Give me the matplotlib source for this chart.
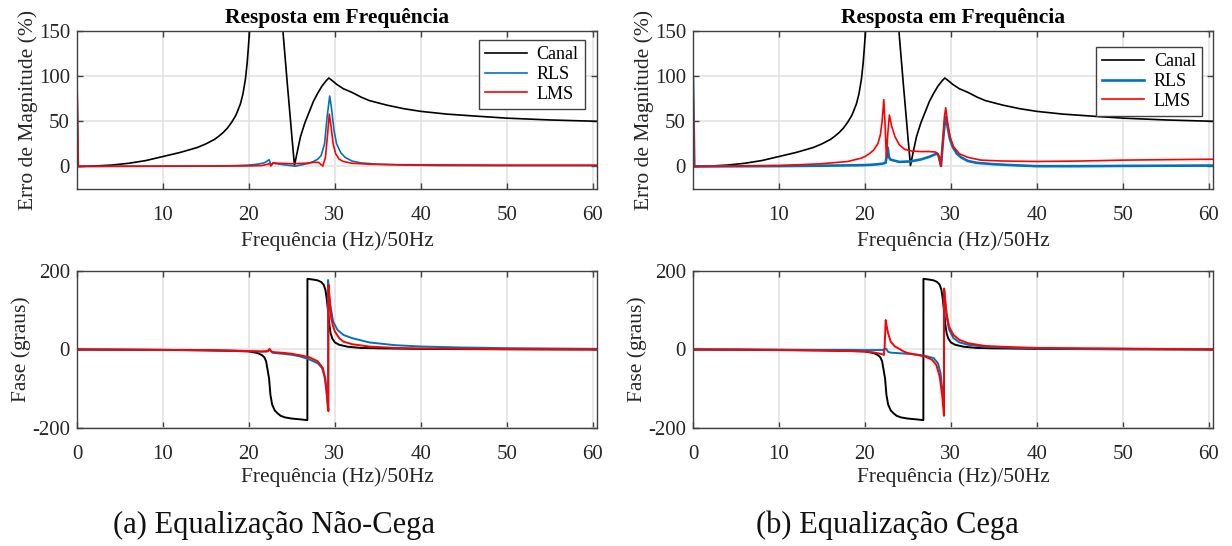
import matplotlib
matplotlib.use("Agg")
import matplotlib.pyplot as plt

# ---- data ----
# channel (same in both panels)
canal_mag_f = [0, 2, 4, 6, 8, 10, 12, 14, 15, 16, 16.5, 17, 17.5, 18, 18.5, 19, 19.3, 19.6, 19.8, 20,
               20.3, 21, 21.7, 22.3, 23, 23.5, 24, 24.5, 25, 25.3, 25.6, 26, 26.5, 27, 27.5, 28, 28.5,
               29, 29.3, 29.7, 30.2, 31, 32, 33, 34, 36, 38, 40, 43, 46, 50, 55, 60.5]
canal_mag = [0, 0.5, 1.5, 3.5, 6.5, 11, 15.5, 21, 25, 30, 33.5, 37.5, 42.5, 49, 57, 69, 80, 97, 115, 140,
             190, 300, 600, 800, 400, 220, 145, 88, 33, 1, 15, 33, 48, 60, 72, 81, 89,
             95, 98, 95, 91, 86, 82, 77, 73, 68, 64, 61, 58, 56, 53.5, 51.5, 50]

canal_ph_f = [0, 5, 10, 15, 18, 20, 21, 21.5, 21.8, 22.0, 22.2, 22.35, 22.5, 22.7, 23.0, 23.3, 23.7,
              24.2, 25, 26, 26.8, 26.81, 27.5, 28, 28.4, 28.7, 28.9, 29.05, 29.2, 29.35, 29.5, 29.7,
              30, 30.5, 31.5, 33, 35, 40, 50, 60.5]
canal_ph = [0, -0.5, -1, -2, -3.5, -5, -9, -14, -20, -30, -55, -75, -115, -140, -155, -162, -169,
            -173, -176, -178, -180, 180, 178, 176, 172, 165, 152, 130, 100, 65, 42, 28,
            18, 12, 7, 4, 3, 1.5, 0.5, 0]

# (a) non-blind
rls_a_mag_f = [0, 0.15, 5, 10, 15, 18, 20, 21, 21.8, 22.2, 22.35, 22.6, 22.8, 23.2, 24, 25, 25.4, 26,
               27, 27.5, 28, 28.4, 28.8, 29.1, 29.4, 29.6, 29.9, 30.2, 30.7, 31.2, 32, 33, 35, 38,
               42, 50, 60.5]
rls_a_mag = [97, 0, 0.2, 0.3, 0.5, 0.8, 1.5, 2.5, 4, 6.5, 7.5, 1.5, 3.5, 3, 2, 0.8, 0.3, 1.5,
             3.5, 5.5, 8, 12, 25, 55, 78, 65, 40, 25, 15, 10, 6, 4, 2.5, 1.5,
             1, 0.8, 0.8]

lms_a_mag_f = [0, 0.15, 5, 10, 15, 20, 21.5, 22.2, 22.4, 22.55, 22.8, 23.5, 25, 26.5, 27.5, 28.1,
               28.4, 28.6, 28.9, 29.15, 29.35, 29.55, 29.8, 30.1, 30.5, 31, 32, 34, 37, 40, 50, 60.5]
lms_a_mag = [97, 0, 0.2, 0.3, 0.4, 0.6, 1, 2.5, 3.5, 0.5, 4, 3.5, 3, 3.5, 4.5, 4.5,
             2, 0.5, 10, 35, 58, 45, 25, 14, 8, 5.5, 3.5, 2.5, 2, 1.8, 1.5, 1.5]

rls_a_ph_f = [0, 5, 10, 15, 18, 20, 21.5, 22.2, 22.4, 22.55, 22.7, 23.0, 24, 25, 26, 27, 28, 28.5,
              28.8, 29.0, 29.2, 29.21, 29.35, 29.5, 29.8, 30.3, 31, 32, 34, 37, 40, 45, 50, 55, 60.5]
rls_a_ph = [0, -0.5, -1, -2, -3, -4, -5.5, -5, 1, -3, -8, -9, -11, -13.5, -18, -25, -35, -47,
            -69, -102, -153, 177, 135, 109, 71, 50, 37, 29, 18, 11, 7.6, 5, 3.4, 2.5, 1.7]

lms_a_ph_f = [0, 5, 10, 15, 18, 20, 21.5, 22.2, 22.4, 22.55, 22.7, 23, 24, 25, 26, 27, 28, 28.6,
              28.9, 29.1, 29.25, 29.26, 29.4, 29.55, 29.75, 30, 30.5, 31, 32, 34, 37, 40, 50, 60.5]
lms_a_ph = [0, -0.5, -1, -2, -3, -4, -5, -4, 1.5, -4, -6, -7, -8.5, -11, -15, -19.5, -30, -47,
            -76, -119, -157, 165, 125, 84, 62, 46, 29, 20, 13.5, 7.5, 4, 2.5, 1, 0]

# (b) blind
rls_b_mag_f = [0, 0.15, 5, 10, 15, 18, 20, 21, 22, 22.4, 22.55, 22.65, 22.8, 23.0, 24, 25.3, 26.5,
               27.5, 28.4, 28.6, 28.85, 29.05, 29.25, 29.4, 29.6, 29.9, 30.2, 30.7, 31.2, 32, 33,
               35, 37, 40, 45, 50, 55, 60.5]
rls_b_mag = [97, 0, 0.2, 0.4, 0.8, 1.2, 1.5, 2, 3, 4, 12, 21, 10, 7.5, 5, 5.6, 7.7,
             10.7, 14.4, 11, 0.5, 25, 45, 55, 45, 30, 22, 14, 10, 6, 4,
             2.5, 1.5, 0.3, 0.3, 0.6, 0.8, 1]

lms_b_mag_f = [0, 0.15, 5, 10, 15, 18, 19.5, 20, 20.5, 21, 21.5, 21.8, 22.0, 22.2, 22.35, 22.5,
               22.65, 22.85, 23.1, 23.5, 24, 24.6, 25.5, 26.5, 27.5, 28.2, 28.5, 28.7, 28.85, 29.05,
               29.25, 29.4, 29.6, 29.9, 30.3, 31, 32, 33.5, 36, 40, 45, 50, 55, 60.5]
lms_b_mag = [97, 0, 0.5, 1, 3, 5.5, 9, 11, 14, 18, 25, 35, 50, 74, 45, 10,
             35, 57, 45, 33, 24, 19, 17, 16.5, 16.5, 16, 14, 8, 0.5, 25,
             55, 65, 50, 33, 22, 14, 10, 7, 6, 5.5, 6, 7, 7.5, 8]

rls_b_ph_f = [0, 5, 10, 15, 18, 20, 21.5, 22.2, 22.45, 22.7, 23, 24, 25, 26, 27, 28, 28.5, 28.8,
              29.05, 29.2, 29.21, 29.35, 29.5, 29.8, 30.3, 31, 32, 33.5, 35, 37, 40, 45, 50, 60.5]
rls_b_ph = [0, 0, -0.5, -1, -1, -1.5, -1.5, -1, 2.5, -6, -8, -9.5, -11, -13, -16, -22, -35, -60,
            -111, -153, 155, 120, 84, 50, 29, 18, 12, 8, 6, 4.5, 2.5, 1.5, 1, 0]

lms_b_ph_f = [0, 5, 10, 15, 18, 20, 21, 21.6, 22.0, 22.2, 22.3, 22.42, 22.55, 22.7, 23.0, 23.5, 24,
              24.5, 25, 26, 27, 27.8, 28.3, 28.7, 29.0, 29.2, 29.21, 29.35, 29.5, 29.8, 30.3, 31,
              32, 34, 37, 40, 50, 60.5]
lms_b_ph = [0, -0.5, -1.5, -3, -4, -5, -7.5, -10, -12, -14, 10, 75, 58, 41.5, 20, 7.6, 1.7,
            -5, -9, -13.5, -18, -26, -39, -69, -119, -169, 155, 125, 92, 58, 37, 24.6,
            16, 9, 6, 4, 2.5, 0]

series_names = ["Canal", "RLS", "LMS"]
captions = ["(a) Equalização Não-Cega", "(b) Equalização Cega"]
mag_ticks = [0, 50, 100, 150]
ph_ticks = [-200, 0, 200]
ph_ticklabels = ["-200", "0", "200"]
top_xticks = [10, 20, 30, 40, 50, 60]
bot_xticks = [0, 10, 20, 30, 40, 50, 60]

BLUE = "#0072BD"
RED = "#FF0000"
AXC = "#262626"

plt.rcParams["font.family"] = ["Liberation Serif", "DejaVu Serif"]

fig = plt.figure(figsize=(12.32, 5.46), dpi=100)


def style(ax):
    for s in ax.spines.values():
        s.set_color("#404040")
        s.set_linewidth(1.0)
    ax.tick_params(direction="in", length=4, width=1.0, colors="#404040",
                   labelcolor=AXC, labelsize=15, top=True, right=True)
    ax.tick_params(axis="x", pad=12)
    ax.tick_params(axis="y", pad=5)
    ax.grid(True, color="#e3e3e3", linewidth=1.2)
    ax.set_axisbelow(True)


panels = [
    (0.0625, rls_a_mag_f, rls_a_mag, lms_a_mag_f, lms_a_mag,
     rls_a_ph_f, rls_a_ph, lms_a_ph_f, lms_a_ph, 1.2, 0.977, 0.943),
    (0.5625, rls_b_mag_f, rls_b_mag, lms_b_mag_f, lms_b_mag,
     rls_b_ph_f, rls_b_ph, lms_b_ph_f, lms_b_ph, 1.9, 0.979, 0.899),
]
cap_x = [0.222, 0.72]

for i, (left, rf, rm, lf, lm, rpf, rp, lpf, lp, rlw, lgx, lgy) in enumerate(panels):
    # magnitude error
    ax = fig.add_axes([left, 0.6538, 0.4221, 0.2894])
    style(ax)
    ax.plot(canal_mag_f, canal_mag, color="k", lw=1.2, label=series_names[0])
    ax.plot(rf, rm, color=BLUE, lw=rlw, label=series_names[1])
    ax.plot(lf, lm, color=RED, lw=1.2, label=series_names[2])
    ax.set_xlim(0, 60.5)
    ax.set_ylim(-25, 150)
    ax.set_xticks(top_xticks)
    ax.set_yticks(mag_ticks)
    ax.set_title("Resposta em Frequência", fontsize=15.5, fontweight="bold", pad=6, color="k")
    ax.set_xlabel("Frequência (Hz)/50Hz", fontsize=15.5, color=AXC)
    ax.set_ylabel("Erro de Magnitude (%)", fontsize=15.5, color=AXC)
    ax.xaxis.set_label_coords(0.5, -0.27)
    ax.yaxis.set_label_coords(-0.075, 0.5)
    leg = ax.legend(loc="upper right", bbox_to_anchor=(lgx, lgy), fontsize=13,
                    fancybox=False, framealpha=1, edgecolor="#404040",
                    handlelength=2.3, handletextpad=0.55, borderpad=0.35,
                    labelspacing=0.15, borderaxespad=0)
    leg.get_frame().set_linewidth(1.0)

    # phase
    bx = fig.add_axes([left, 0.2161, 0.4221, 0.2876])
    style(bx)
    bx.plot(canal_ph_f, canal_ph, color="k", lw=1.4)
    bx.plot(rpf, rp, color=BLUE, lw=1.4)
    bx.plot(lpf, lp, color=RED, lw=1.4)
    bx.set_xlim(0, 60.5)
    bx.set_ylim(-200, 200)
    bx.set_xticks(bot_xticks)
    bx.set_yticks(ph_ticks)
    bx.set_yticklabels(ph_ticklabels)
    bx.set_xlabel("Frequência (Hz)/50Hz", fontsize=15.5, color=AXC)
    bx.set_ylabel("Fase (graus)", fontsize=15.5, color=AXC)
    bx.xaxis.set_label_coords(0.5, -0.25)
    bx.yaxis.set_label_coords(-0.088, 0.5)

    fig.text(cap_x[i], 0.038, captions[i], fontsize=22, ha="center", va="center", color="#111111")

fig.savefig("out.png", dpi=100, facecolor="white")
